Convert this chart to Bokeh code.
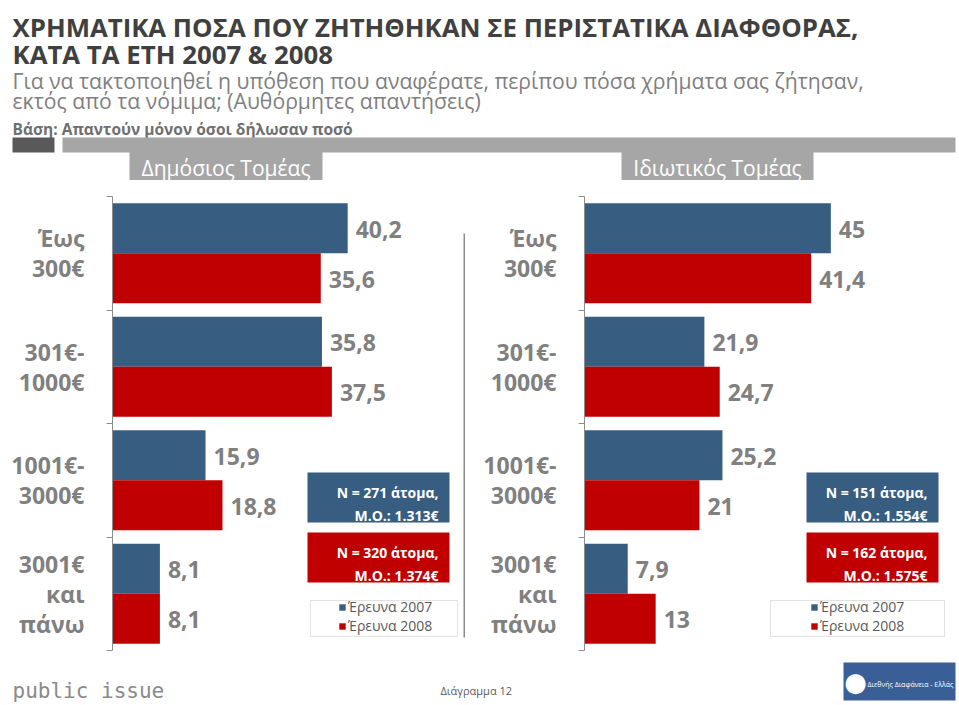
from bokeh.plotting import figure
from bokeh.models import (ColumnDataSource, Range1d, FixedTicker, LabelSet, Label,
                          BoxAnnotation, Legend, LegendItem)
from bokeh.layouts import column, row
from bokeh.core.properties import value
from bokeh.embed import file_html
from bokeh.resources import INLINE

# ---------------- data ----------------
categories = ["Έως 300€", "301€-1000€", "1001€-3000€", "3001€ και πάνω"]
category_labels = ["Έως\n300€", "301€-\n1000€", "1001€-\n3000€", "3001€\nκαι\nπάνω"]
series = ["Έρευνα 2007", "Έρευνα 2008"]
public_2007 = [40.2, 35.8, 15.9, 8.1]
public_2008 = [35.6, 37.5, 18.8, 8.1]
private_2007 = [45, 21.9, 25.2, 7.9]
private_2008 = [41.4, 24.7, 21, 13]
public_notes = [["N = 271 άτομα,", "Μ.Ο.: 1.313€"], ["N = 320 άτομα,", "Μ.Ο.: 1.374€"]]
private_notes = [["N = 151 άτομα,", "Μ.Ο.: 1.554€"], ["N = 162 άτομα,", "Μ.Ο.: 1.575€"]]
panel_titles = ["Δημόσιος Τομέας", "Ιδιωτικός Τομέας"]
title_lines = ["ΧΡΗΜΑΤΙΚΑ ΠΟΣΑ ΠΟΥ ΖΗΤΗΘΗΚΑΝ ΣΕ ΠΕΡΙΣΤΑΤΙΚΑ ΔΙΑΦΘΟΡΑΣ,",
               "ΚΑΤΑ ΤΑ ΕΤΗ 2007 & 2008"]
subtitle_lines = ["Για να τακτοποιηθεί η υπόθεση που αναφέρατε, περίπου πόσα χρήματα σας ζήτησαν,",
                  "εκτός από τα νόμιμα; (Αυθόρμητες απαντήσεις)"]
base_text = "Βάση: Απαντούν μόνον όσοι δήλωσαν ποσό"
footer_brand = "public issue"
footer_caption = "Διάγραμμα 12"
footer_logo_text = "Διεθνής Διαφάνεια - Ελλάς"

# ---------------- styles ----------------
BLUE = "#375d81"
RED = "#c00000"
GREY_TXT = "#808080"
FONT = "Open Sans"


def fmt(v):
    return f"{v:g}".replace(".", ",")


def screen_box(l, r, t, b, **kw):
    return BoxAnnotation(left=l, right=r, top=t, bottom=b,
                         left_units="screen", right_units="screen",
                         top_units="screen", bottom_units="screen", **kw)


def make_panel(vals07, vals08, notes, width, border_left, border_top, x_max,
               note_x, note_right, divider=None):
    n = len(categories)
    centers = [n - 1 - i + 0.5 for i in range(n)]
    p = figure(width=width, height=480, x_range=Range1d(0, x_max), y_range=Range1d(0, n),
               x_axis_location=None, output_backend="svg", toolbar_location=None,
               title=None, min_border_left=border_left, min_border_right=0,
               min_border_top=border_top, min_border_bottom=10)
    p.outline_line_color = None
    p.grid.visible = False
    p.background_fill_color = "white"
    p.border_fill_color = "white"

    s07 = ColumnDataSource(dict(y=[c + 0.22 for c in centers], v=vals07,
                                t=[fmt(v) for v in vals07]))
    s08 = ColumnDataSource(dict(y=[c - 0.22 for c in centers], v=vals08,
                                t=[fmt(v) for v in vals08]))
    r07 = p.hbar(y="y", right="v", left=0, height=0.44, source=s07,
                 fill_color=BLUE, line_color=None)
    r08 = p.hbar(y="y", right="v", left=0, height=0.44, source=s08,
                 fill_color=RED, line_color=None)
    for s in (s07, s08):
        p.add_layout(LabelSet(x="v", y="y", text="t", source=s, x_offset=8, y_offset=-1,
                              text_baseline="middle", text_align="left",
                              text_font=value(FONT), text_font_style="bold",
                              text_font_size=value("23px"), text_color=GREY_TXT))

    ax = p.yaxis[0]
    ax.ticker = FixedTicker(ticks=centers, minor_ticks=list(range(n + 1)))
    ax.major_label_overrides = {c: lab for c, lab in zip(centers, category_labels)}
    ax.axis_line_color = "#8c8c8c"
    ax.major_tick_line_color = None
    ax.major_tick_out = 0
    ax.major_tick_in = 0
    ax.minor_tick_line_color = "#8c8c8c"
    ax.minor_tick_out = 6
    ax.minor_tick_in = 0
    ax.major_label_standoff = 22
    ax.major_label_text_font = FONT
    ax.major_label_text_font_style = "bold"
    ax.major_label_text_font_size = "23px"
    ax.major_label_text_color = GREY_TXT
    ax.major_label_text_line_height = 0.93

    # note boxes (N, mean)
    for k, (fill, lines) in enumerate(zip([BLUE, RED], notes)):
        top = 178 - k * 60
        p.add_layout(screen_box(note_x[0], note_x[1], top, top - 50,
                                fill_color=fill, fill_alpha=1, line_color=None))
        for j, txt in enumerate(lines):
            p.add_layout(Label(x=note_right, y=top - 20 - j * 23, x_units="screen", y_units="screen",
                               text=txt, text_align="right", text_baseline="alphabetic",
                               text_font=FONT, text_font_style="bold", text_font_size="14px",
                               text_color="white"))

    # legend frame
    p.add_layout(screen_box(note_x[2], note_x[3], 50, 14, fill_color="white", fill_alpha=1,
                            line_color="#a0a0a0", line_width=1))
    legend = Legend(items=[LegendItem(label=series[0], renderers=[r07]),
                           LegendItem(label=series[1], renderers=[r08])],
                    location=(226, 15), padding=0, margin=0, spacing=0,
                    glyph_width=8, glyph_height=8, label_standoff=2, label_height=16,
                    label_text_font=FONT, label_text_font_size="14px",
                    label_text_color="#595959", border_line_color=None,
                    background_fill_alpha=0)
    p.add_layout(legend)

    if divider is not None:
        p.add_layout(screen_box(divider, divider + 1.5, 417, 13,
                                fill_color="#8c8c8c", fill_alpha=1, line_color=None))
    return p


left = make_panel(public_2007, public_2008, public_notes, 480, 112, 16, 62.9,
                  (195, 337, 198, 345), 326, divider=351)
right = make_panel(private_2007, private_2008, private_notes, 479, 97, 2, 68.5,
                   (222, 354, 186, 360), 343)

# ---------------- header ----------------
head = figure(width=959, height=180, x_range=Range1d(0, 959), y_range=Range1d(180, 0),
              x_axis_location=None, y_axis_location=None, min_border=0, title=None,
              output_backend="svg", toolbar_location=None)
head.outline_line_color = None
head.grid.visible = False
for txt, y in zip(title_lines, [26, 53]):
    head.add_layout(Label(x=12, y=y, text=txt, text_font=FONT, text_font_style="bold",
                          text_font_size="25.8px", text_color="#404040",
                          text_baseline="alphabetic"))
for txt, y in zip(subtitle_lines, [80, 100]):
    head.add_layout(Label(x=12, y=y, text=txt, text_font=FONT, text_font_size="21.2px",
                          text_color="#7f7f7f", text_baseline="alphabetic"))
head.add_layout(Label(x=12, y=128, text=base_text, text_font=FONT, text_font_style="bold",
                      text_font_size="15.5px", text_color="#6f6f6f", text_baseline="alphabetic"))
head.add_layout(BoxAnnotation(left=12, right=54, top=137, bottom=152, fill_color="#595959",
                              fill_alpha=1, line_color=None))
head.add_layout(BoxAnnotation(left=62, right=955, top=137, bottom=152, fill_color="#a6a6a6",
                              fill_alpha=1, line_color=None))
for txt, (x0, x1) in zip(panel_titles, [(129, 322), (621, 813)]):
    head.add_layout(BoxAnnotation(left=x0, right=x1, top=151, bottom=181, fill_color="#a6a6a6",
                                  fill_alpha=1, line_color=None))
    head.add_layout(Label(x=(x0 + x1) / 2, y=167, text=txt, text_font=FONT,
                          text_font_size="21px", text_color="white", text_align="center",
                          text_baseline="alphabetic"))

# ---------------- footer ----------------
foot = figure(width=959, height=45, x_range=Range1d(0, 959), y_range=Range1d(705, 660),
              x_axis_location=None, y_axis_location=None, min_border=0, title=None,
              output_backend="svg", toolbar_location=None)
foot.outline_line_color = None
foot.grid.visible = False
foot.add_layout(Label(x=12, y=690, text=footer_brand, text_font="DejaVu Sans Mono",
                      text_font_size="21px", text_color="#8a8a8a", text_baseline="alphabetic"))
foot.add_layout(Label(x=440, y=690, text=footer_caption, text_font=FONT,
                      text_font_size="11px", text_color="#595959", text_baseline="alphabetic"))
foot.add_layout(BoxAnnotation(left=843, right=955, top=662, bottom=700, fill_color="#3a5f96",
                              fill_alpha=1, line_color=None))
foot.add_layout(Label(x=855, y=681, text="●", text_font="DejaVu Sans", text_font_size="26px",
                      text_color="white", text_align="center", text_baseline="middle"))
foot.add_layout(Label(x=867, y=684, text=footer_logo_text, text_font=FONT,
                      text_font_size="7px", text_color="white", text_baseline="alphabetic"))

layout = column(head, row(left, right, spacing=0), foot, spacing=0)
open("out.html", "w").write(file_html(layout, INLINE))
